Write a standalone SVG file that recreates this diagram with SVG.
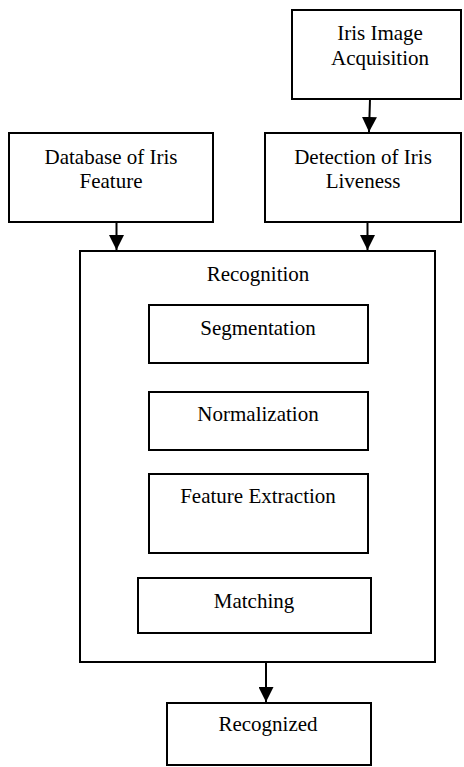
<svg xmlns="http://www.w3.org/2000/svg" width="464" height="767" viewBox="0 0 464 767">
<style>
.box{fill:#fff;stroke:#000;stroke-width:2}
.lbl{font-family:'Liberation Serif','Times New Roman',Tinos,'DejaVu Serif',serif;font-size:21px;fill:#000;text-anchor:middle}
.con{stroke:#000;stroke-width:2;fill:none;marker-end:url(#ah)}
</style>
<defs>
<marker id="ah" markerUnits="userSpaceOnUse" markerWidth="15" markerHeight="15" refX="15" refY="7.5" orient="auto">
<path d="M0,0 L15,7.5 L0,15 z" fill="#000"/>
</marker>
</defs>
<rect width="464" height="767" fill="#fff"/>
<g id="acquisition">
<rect class="box" x="292" y="10" width="169" height="89"/>
<text class="lbl" x="380" y="40">Iris Image</text>
<text class="lbl" x="380" y="65">Acquisition</text>
</g>
<g id="liveness">
<rect class="box" x="265" y="133" width="196" height="89"/>
<text class="lbl" x="363" y="164">Detection of Iris</text>
<text class="lbl" x="363" y="188">Liveness</text>
</g>
<g id="database">
<rect class="box" x="9" y="133" width="204" height="89"/>
<text class="lbl" x="111" y="164">Database of Iris</text>
<text class="lbl" x="111" y="188">Feature</text>
</g>
<g id="recognition">
<rect class="box" x="80" y="251" width="355" height="411"/>
<text class="lbl" x="258" y="281">Recognition</text>
</g>
<g id="segmentation">
<rect class="box" x="149" y="305" width="219" height="58"/>
<text class="lbl" x="258" y="335">Segmentation</text>
</g>
<g id="normalization">
<rect class="box" x="149" y="392" width="219" height="58"/>
<text class="lbl" x="258" y="421">Normalization</text>
</g>
<g id="feature-extraction">
<rect class="box" x="149" y="474" width="219" height="79"/>
<text class="lbl" x="258" y="503">Feature Extraction</text>
</g>
<g id="matching">
<rect class="box" x="138" y="578" width="233" height="55"/>
<text class="lbl" x="254" y="608">Matching</text>
</g>
<g id="recognized">
<rect class="box" x="167" y="703" width="204" height="62"/>
<text class="lbl" x="268" y="731">Recognized</text>
</g>
<g id="connectors">
<line class="con" x1="370" y1="99" x2="369" y2="132"/>
<line class="con" x1="116.5" y1="222" x2="116.5" y2="250"/>
<line class="con" x1="367.5" y1="222" x2="367.5" y2="250"/>
<line class="con" x1="266" y1="662" x2="266" y2="702"/>
</g>
</svg>
